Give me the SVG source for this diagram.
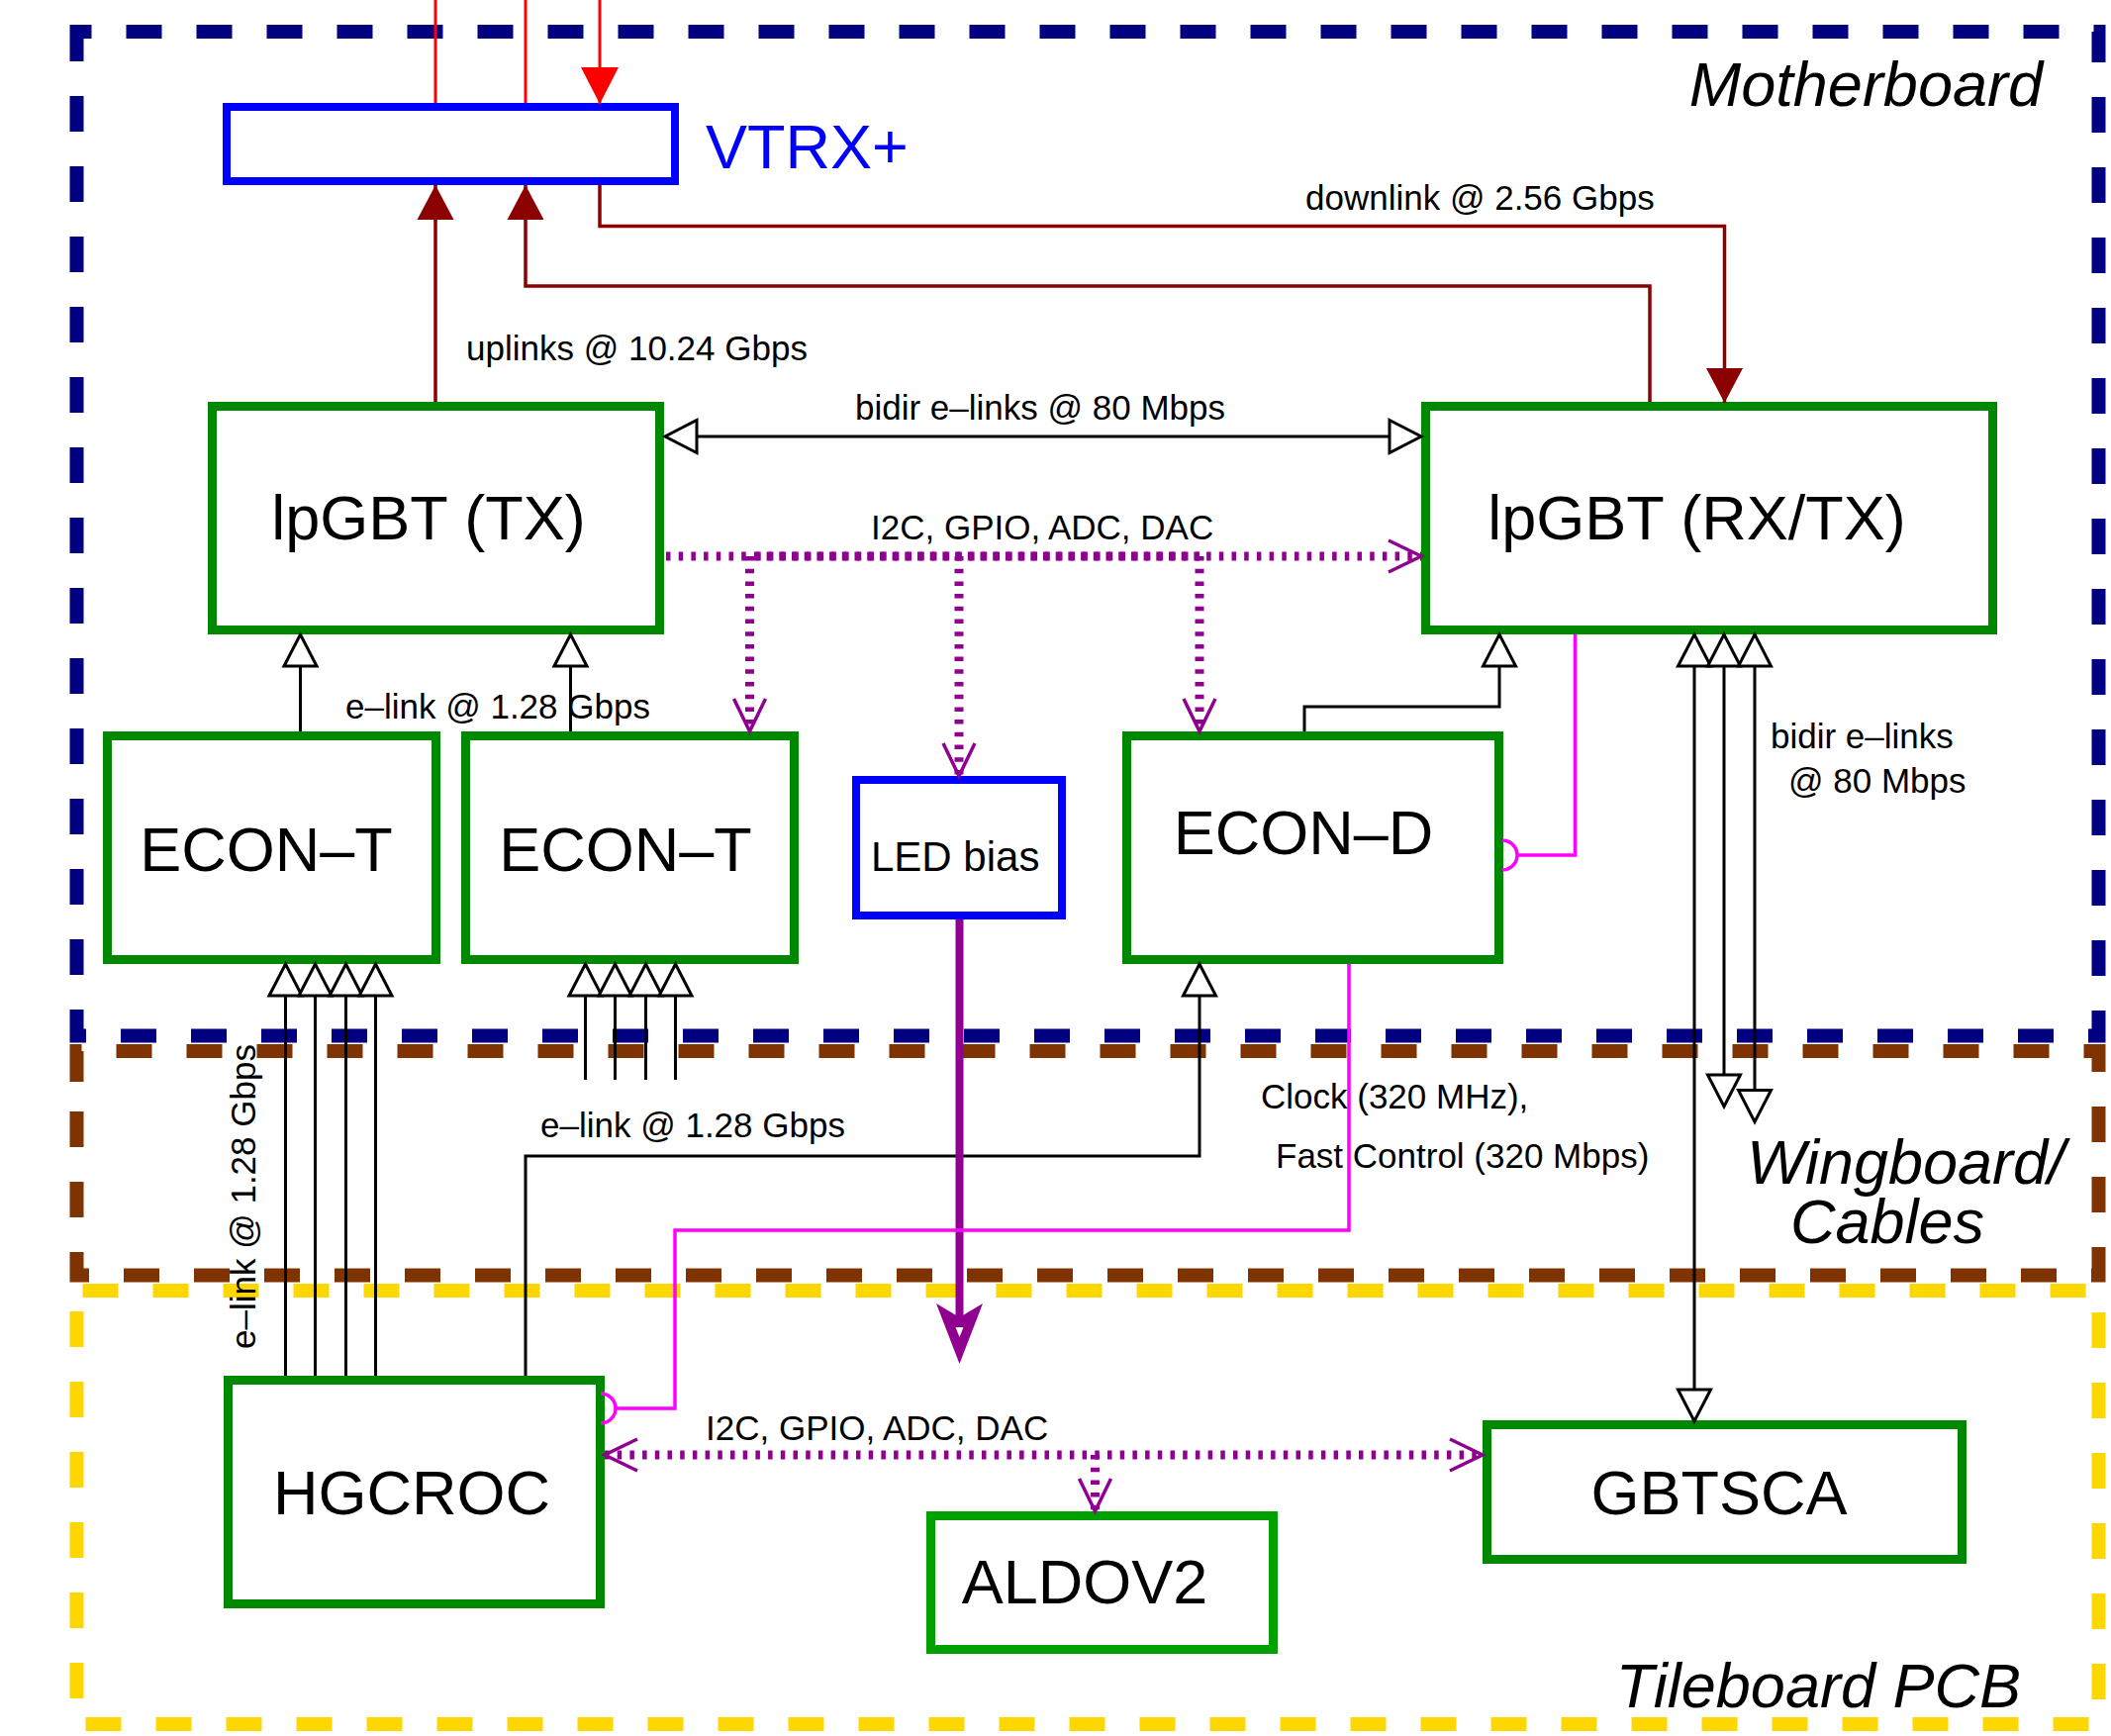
<svg xmlns="http://www.w3.org/2000/svg" width="2133" height="1754" viewBox="0 0 2133 1754">
<style>
text { font-family: "Liberation Sans", Arial, sans-serif; fill: #000; }
.big { font-size: 63px; }
.lbl { font-size: 35px; }
.it { font-style: italic; font-size: 63px; }
.box { fill: #fff; stroke: #008800; stroke-width: 9; }
.bbox { fill: #fff; stroke: #0000ff; stroke-width: 8; }
.border { fill: none; stroke-width: 14; stroke-dasharray: 36 35; }
.blk { fill: none; stroke: #000; stroke-width: 3; }
.dred { fill: none; stroke: #8b0000; stroke-width: 3.5; }
.red { fill: none; stroke: #ff0000; stroke-width: 3; }
.dot { fill: none; stroke: #900090; stroke-width: 9; stroke-dasharray: 4.5 8.2; }
.mag { fill: none; stroke: #ff00ff; stroke-width: 3.5; }
</style>
<defs>
<marker id="hollow" markerUnits="userSpaceOnUse" viewBox="-3 -20 40 40" markerWidth="40" markerHeight="40" refX="33" refY="0" orient="auto-start-reverse" overflow="visible">
<path d="M1,-16.5 L33,0 L1,16.5 Z" fill="#fff" stroke="#000" stroke-width="3" stroke-linejoin="miter"/>
</marker>
<marker id="darr" markerUnits="userSpaceOnUse" viewBox="0 -20 36 40" markerWidth="36" markerHeight="40" refX="35" refY="0" orient="auto" overflow="visible">
<path d="M0,-18.5 L35,0 L0,18.5 Z" fill="#8b0000"/>
</marker>
<marker id="rarr" markerUnits="userSpaceOnUse" viewBox="0 -20 38 40" markerWidth="38" markerHeight="40" refX="37" refY="0" orient="auto" overflow="visible">
<path d="M0,-19 L37,0 L0,19 Z" fill="#ff0000"/>
</marker>
<marker id="vee" markerUnits="userSpaceOnUse" viewBox="-2 -20 38 40" markerWidth="38" markerHeight="40" refX="33" refY="0" orient="auto-start-reverse" overflow="visible">
<path d="M0,-16 L33,0 L0,16" fill="none" stroke="#900090" stroke-width="3.5" stroke-dasharray="none"/>
</marker>
</defs>
<rect x="0" y="0" width="2133" height="1754" fill="#fff"/>

<g id="borders">
<path class="border" stroke="#000080" stroke-dashoffset="1" d="M77.5,52 L77.5,32 L2120.5,32 L2120.5,1046.5 L77.5,1046.5 Z"/>
<path class="border" stroke="#7f3300" d="M77.5,1093 L77.5,1062 L2120.5,1062 L2120.5,1288.5 L77.5,1288.5 Z"/>
<path class="border" stroke="#ffd700" stroke-dasharray="50 50" stroke-dashoffset="65" d="M77.5,1304 L2120.5,1304 L2120.5,1742 L77.5,1742 Z"/>
<text class="it" x="2064" y="107" text-anchor="end">Motherboard</text>
<text class="it"><tspan x="1765" y="1196">Wingboard/</tspan><tspan x="1809" y="1256">Cables</tspan></text>
<text class="it" x="2042" y="1725" text-anchor="end">Tileboard PCB</text>
</g>

<g id="vtrx">
<rect class="bbox" x="229" y="108" width="453" height="75"/>
<text class="big" x="713" y="170" style="fill:#0000ff">VTRX+</text>
</g>
<g id="lpgbt-tx">
<rect class="box" x="214.5" y="410.5" width="452" height="226"/>
<text class="big" x="433" y="545" text-anchor="middle">lpGBT (TX)</text>
</g>
<g id="lpgbt-rxtx">
<rect class="box" x="1440.5" y="410.5" width="573" height="226"/>
<text class="big" x="1714.5" y="545" text-anchor="middle">lpGBT (RX/TX)</text>
</g>
<g id="econ-t1">
<rect class="box" x="108.5" y="743.5" width="332" height="226"/>
<text class="big" x="269" y="880" text-anchor="middle">ECON–T</text>
</g>
<g id="econ-t2">
<rect class="box" x="470.5" y="743.5" width="332" height="226"/>
<text class="big" x="632" y="880" text-anchor="middle">ECON–T</text>
</g>
<g id="led-bias">
<rect class="bbox" x="865" y="788" width="208" height="137"/>
<text x="880" y="880" style="font-size:42px">LED bias</text>
</g>
<g id="econ-d">
<rect class="box" x="1138.5" y="743.5" width="376" height="226"/>
<text class="big" x="1317" y="863" text-anchor="middle">ECON–D</text>
</g>
<g id="hgcroc">
<rect class="box" x="230.5" y="1394.5" width="376" height="226"/>
<text class="big" x="416" y="1530" text-anchor="middle">HGCROC</text>
</g>
<g id="gbtsca">
<rect class="box" x="1502.5" y="1439.5" width="480" height="136"/>
<text class="big" x="1737" y="1530" text-anchor="middle">GBTSCA</text>
</g>
<g id="aldov2">
<rect class="box" x="940.5" y="1531.5" width="346" height="135" style="stroke:#00a000"/>
<text class="big" x="1096" y="1620" text-anchor="middle">ALDOV2</text>
</g>

<g id="connectors">
<path class="red" d="M440,0 L440,104"/>
<path class="red" d="M531,0 L531,104"/>
<path class="red" d="M606,0 L606,105" marker-end="url(#rarr)"/>
<path class="dred" d="M440,406 L440,187" marker-end="url(#darr)"/>
<path class="dred" d="M1667,406 L1667,289 L531,289 L531,187" marker-end="url(#darr)"/>
<path class="dred" d="M606,187 L606,228.5 L1742.5,228.5 L1742.5,407" marker-end="url(#darr)"/>
<path class="blk" d="M672,441 L1436,441" marker-start="url(#hollow)" marker-end="url(#hollow)"/>
<path class="blk" d="M303.5,739 L303.5,641" marker-end="url(#hollow)"/>
<path class="blk" d="M576.5,739 L576.5,641" marker-end="url(#hollow)"/>
<path class="blk" d="M288.5,1390 L288.5,974" marker-end="url(#hollow)"/>
<path class="blk" d="M318.5,1390 L318.5,974" marker-end="url(#hollow)"/>
<path class="blk" d="M349.5,1390 L349.5,974" marker-end="url(#hollow)"/>
<path class="blk" d="M379.5,1390 L379.5,974" marker-end="url(#hollow)"/>
<path class="blk" d="M591.5,1091 L591.5,974" marker-end="url(#hollow)"/>
<path class="blk" d="M621.5,1091 L621.5,974" marker-end="url(#hollow)"/>
<path class="blk" d="M652.5,1091 L652.5,974" marker-end="url(#hollow)"/>
<path class="blk" d="M682.5,1091 L682.5,974" marker-end="url(#hollow)"/>
<path class="blk" d="M1318,739 L1318,714 L1515,714 L1515,641" marker-end="url(#hollow)"/>
<path class="blk" d="M531,1390 L531,1168 L1212,1168 L1212,974" marker-end="url(#hollow)"/>
<path class="blk" d="M1712,641 L1712,1436" marker-start="url(#hollow)" marker-end="url(#hollow)"/>
<path class="blk" d="M1742,641 L1742,1118" marker-start="url(#hollow)" marker-end="url(#hollow)"/>
<path class="blk" d="M1773,641 L1773,1133.5" marker-start="url(#hollow)" marker-end="url(#hollow)"/>
<path class="dot" d="M673,562 L1436,562" marker-end="url(#vee)"/>
<path class="dot" stroke-dashoffset="6" d="M757.5,562 L1212,562"/>
<path class="dot" d="M757.5,562 L757.5,739" marker-end="url(#vee)"/>
<path class="dot" d="M969,562 L969,784" marker-end="url(#vee)"/>
<path class="dot" d="M1212,562 L1212,739" marker-end="url(#vee)"/>
<path class="dot" d="M611,1470 L1498,1470" marker-start="url(#vee)" marker-end="url(#vee)"/>
<path class="dot" d="M1106.5,1470 L1106.5,1527" marker-end="url(#vee)"/>
<path d="M969.5,929 L969.5,1332" fill="none" stroke="#900090" stroke-width="8"/>
<path d="M946,1317 L969.5,1331 L993,1317 L969.5,1378 Z M965.5,1341 L973.5,1341 L969.5,1351 Z" fill="#900090" fill-rule="evenodd"/>
<path class="mag" d="M1591.5,641 L1591.5,864 L1533,864"/>
<path class="mag" d="M1518,849 A15,15 0 0 1 1518,879"/>
<path class="mag" d="M1363,974 L1363,1243 L682,1243 L682,1423 L622,1423"/>
<path class="mag" d="M607,1408 A15,15 0 0 1 607,1438"/>
</g>

<g id="labels">
<text class="lbl" x="1319" y="212">downlink @ 2.56 Gbps</text>
<text class="lbl" x="471" y="364">uplinks @ 10.24 Gbps</text>
<text class="lbl" x="864" y="424">bidir e–links @ 80 Mbps</text>
<text class="lbl" x="880" y="545">I2C, GPIO, ADC, DAC</text>
<text class="lbl" x="349" y="726">e–link @ 1.28 Gbps</text>
<text class="lbl" x="1789" y="756">bidir e–links</text>
<text class="lbl" x="1807" y="801">@ 80 Mbps</text>
<text class="lbl" x="1274" y="1120">Clock (320 MHz),</text>
<text class="lbl" x="546" y="1149">e–link @ 1.28 Gbps</text>
<text class="lbl" x="1289" y="1180">Fast Control (320 Mbps)</text>
<text class="lbl" x="713" y="1455">I2C, GPIO, ADC, DAC</text>
<text class="lbl" transform="translate(258,1363) rotate(-90)">e–link @ 1.28 Gbps</text>
</g>
</svg>
